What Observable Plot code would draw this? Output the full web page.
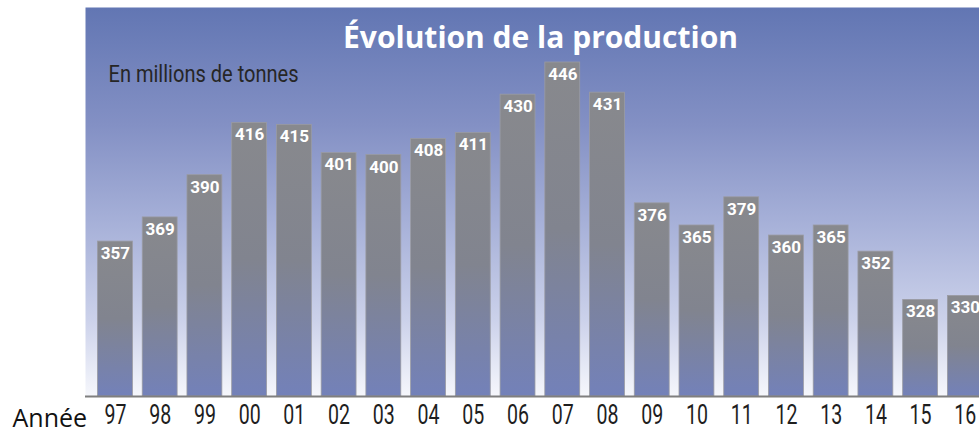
<!DOCTYPE html>
<html><head><meta charset="utf-8">
<script src="https://cdn.jsdelivr.net/npm/d3@7"></script>
<script src="https://cdn.jsdelivr.net/npm/@observablehq/plot@0.6"></script>
<style>body{margin:0;background:#fff;} svg{display:block}</style>
</head><body><div id="chart"></div>
<script>
const years = ["97","98","99","00","01","02","03","04","05","06","07","08","09","10","11","12","13","14","15","16"];
const production = [357,369,390,416,415,401,400,408,411,430,446,431,376,365,379,360,365,352,328,330];
const title = "Évolution de la production";
const unitLabel = "En millions de tonnes";
const axisLabel = "Année";
const data = years.map((year, i) => ({year, value: production[i]}));

const defs = () => {
  const d = d3.create("svg:defs");
  const bg = d.append("linearGradient").attr("id", "bgGrad").attr("x1", 0).attr("y1", 0).attr("x2", 0).attr("y2", 1);
  [[0, "#6276b3"], [0.3, "#8390c4"], [0.55, "#a6b0d8"], [0.8, "#cbd1ea"], [1, "#f6f7fc"]]
    .forEach(([o, c]) => bg.append("stop").attr("offset", o).attr("stop-color", c));
  const bar = d.append("linearGradient").attr("id", "barGrad").attr("x1", 0).attr("y1", 0).attr("x2", 0).attr("y2", 1);
  [[0, "#88898d"], [0.5, "#81848f"], [1, "#7381b9"]]
    .forEach(([o, c]) => bar.append("stop").attr("offset", o).attr("stop-color", c));
  return d.node();
};

const chart = Plot.plot({
  width: 979,
  height: 433,
  marginLeft: 85,
  marginRight: 0,
  marginTop: 7,
  marginBottom: 37,
  style: {background: "#fff", color: "#1e1e1e"},
  x: {type: "band", domain: years, range: [97.5, 982.3], paddingInner: 0.22, paddingOuter: 0, round: false},
  y: {domain: [280, 446], range: [396, 62], clamp: true, axis: null},
  marks: [
    defs,
    Plot.frame({fill: "url(#bgGrad)", stroke: "none"}),
    Plot.barY(data, {x: "year", y: "value", fill: "url(#barGrad)", stroke: "#9a9ba3", strokeWidth: 0.8}),
    Plot.text(data, {x: "year", y: "value", text: d => String(d.value), dy: 12, fill: "white",
      fontSize: 17, fontWeight: "bold", fontFamily: "Roboto"}),
    Plot.ruleY([280], {stroke: "#7f7f7f", strokeWidth: 2}),
    Plot.axisX({tickSize: 0, tickPadding: 8, fontSize: 27, fontFamily: "Roboto", label: null}),
    Plot.text([title], {frameAnchor: "top", dx: 8, dy: 40, lineAnchor: "bottom", fill: "white",
      fontSize: 30, fontWeight: "bold", fontFamily: "Open Sans"}),
    Plot.text([unitLabel], {frameAnchor: "top-left", dx: 23, dy: 74.7, lineAnchor: "bottom", textAnchor: "start",
      fill: "#262626", fontSize: 23, fontFamily: "Roboto"}),
    Plot.text([axisLabel], {frameAnchor: "bottom-left", dx: -73, dy: 30.5, lineAnchor: "bottom", textAnchor: "start",
      fill: "#111", fontSize: 25, fontFamily: "Open Sans"})
  ]
});
document.getElementById("chart").append(chart);

// condensed look for the narrow typefaces of the original
d3.select(chart).selectAll("g[aria-label='x-axis tick label'] text")
  .attr("textLength", 22).attr("lengthAdjust", "spacingAndGlyphs");
d3.select(chart).selectAll("g[aria-label='text'] text").filter(function() { return this.textContent === unitLabel; })
  .attr("textLength", 190).attr("lengthAdjust", "spacingAndGlyphs");
</script>
</body></html>
